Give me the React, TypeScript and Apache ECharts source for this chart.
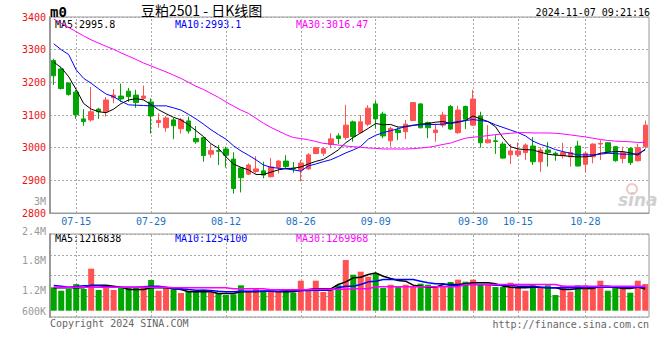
import React, { useEffect, useRef } from 'react';
import * as echarts from 'echarts';

const dates = [
  '07-10','07-11','07-12','07-15','07-16','07-17','07-18','07-19','07-22','07-23','07-24','07-25','07-26','07-29','07-30','07-31',
  '08-01','08-02','08-05','08-06','08-07','08-08','08-09','08-12','08-13','08-14','08-15','08-16','08-19','08-20','08-21','08-22','08-23','08-26','08-27','08-28','08-29','08-30',
  '09-02','09-03','09-04','09-05','09-06','09-09','09-10','09-11','09-12','09-13','09-18','09-19','09-20','09-23','09-24','09-25','09-26','09-27','09-30',
  '10-08','10-09','10-10','10-11','10-14','10-15','10-16','10-17','10-18','10-21','10-22','10-23','10-24','10-25','10-28','10-29','10-30','10-31',
  '11-01','11-04','11-05','11-06','11-07'
];
const labelDates = ['07-15', '07-29', '08-12', '08-26', '09-09', '09-30', '10-15', '10-28'];

const opens = [3267,3241,3198,3170,3088,3085,3118,3110,3153,3158,3173,3161,3151,3140,3077,3061,3085,3058,3082,3028,
  3031,2980,2991,2996,2965,2938,2919,2927,2929,2911,2940,2959,2937,2932,2935,2982,2983,3010,3036,3031,
  3079,3046,3072,3134,3103,3021,3054,3049,3083,3134,3077,3046,3069,3126,3046,3126,3069,3097,3015,3021,
  3011,2978,2978,2985,3005,2957,2993,2983,2975,2972,3005,2949,2972,3011,3015,3003,2967,2998,2960,3003];
const closes = [3220,3181,3163,3101,3080,3110,3110,3146,3161,3149,3156,3138,3158,3097,3083,3091,3067,3085,3051,3018,
  2976,2991,2989,2977,2875,2908,2947,2935,2916,2941,2959,2942,2935,2953,2978,3000,2997,3027,3028,3069,
  3034,3079,3121,3088,3036,3059,3046,3072,3138,3061,3061,3054,3100,3057,3115,3087,3149,3015,3024,3019,
  2968,2990,2990,3008,2957,2993,2985,2979,2985,2985,2944,2983,3011,3013,2987,2960,2985,2954,3000,3069];
const highs = [3272,3245,3199,3177,3118,3186,3122,3155,3179,3196,3183,3177,3190,3151,3105,3097,3091,3091,3095,3066,
  3033,3011,3008,3003,2986,2940,2952,2974,2957,2968,2962,2977,2956,2962,2983,3002,3001,3044,3044,3131,
  3083,3100,3130,3143,3110,3064,3062,3085,3140,3136,3080,3074,3110,3131,3128,3129,3177,3110,3069,3039,
  3018,3011,3016,3013,3032,3001,3017,2988,3015,3001,3021,2988,3013,3023,3017,3005,3003,3001,3011,3083];
const lows = [3192,3178,3159,3088,3067,3080,3088,3095,3136,3140,3140,3122,3146,3043,3061,3049,3026,3043,3043,3012,
  2957,2969,2947,2939,2859,2863,2916,2921,2906,2909,2921,2937,2923,2897,2932,2980,2975,2998,3011,3024,
  3018,3044,3066,3058,3029,3003,3023,3026,3081,3059,3029,3018,3062,3054,3042,3057,3066,3000,3013,2981,
  2966,2950,2972,2962,2947,2926,2942,2960,2967,2942,2942,2926,2952,2962,2983,2957,2952,2947,2957,2998];

const ma5 = [3262,3245,3217,3178,3135,3118,3110,3107,3118,3135,3146,3150,3146,3132,3116,3104,3093,3085,3070,3052,
  3034,3012,2998,2972,2950,2940,2932,2918,2918,2925,2932,2936,2937,2941,2950,2958,2964,2978,2993,3015,
  3031,3045,3059,3074,3070,3071,3063,3064,3068,3072,3074,3078,3080,3074,3078,3083,3097,3088,3080,3064,
  3030,3003,2996,2994,2993,2986,2980,2977,2976,2973,2972,2972,2975,2983,2986,2988,2988,2984,2977,2995.8];
const ma10 = [3318,3300,3285,3238,3212,3197,3180,3164,3156,3142,3131,3130,3129,3128,3128,3128,3122,3115,3102,3088,
  3072,3055,3040,3026,3006,2990,2977,2963,2947,2940,2937,2935,2932,2928,2944,2950,2957,2963,2973,2984,
  2993,3004,3026,3038,3046,3052,3058,3065,3069,3070,3071,3071,3072,3076,3080,3083,3086,3083,3080,3070,
  3062,3054,3046,3036,3020,3010,3003,2994,2988,2983,2978,2978,2978,2980,2983,2982,2980,2980,2981,2993.1];
const ma30 = [3394,3381,3368,3355,3342,3330,3320,3310,3301,3290,3280,3270,3259,3250,3241,3232,3222,3212,3200,3188,
  3178,3166,3154,3140,3127,3115,3105,3090,3075,3062,3051,3040,3031,3028,3024,3019,3013,3011,3008,3005,
  3003,3001,2999,2998,2996,2996,2996,2996,2997,2999,3001,3005,3010,3014,3022,3029,3032,3034,3037,3040,
  3042,3044,3046,3046,3045,3045,3045,3044,3042,3039,3036,3033,3029,3025,3022,3020,3019,3018,3016,3016.47];

const volumes = [1254000,1185000,1220000,1320000,1220000,1633000,1200000,1254000,1200000,1254000,1240000,1254000,1240000,1403000,1185000,1254000,1254000,1138000,1172000,1185000,
  1206000,1152000,1138000,1098000,1112000,1295000,1185000,1220000,1185000,1200000,1185000,1200000,1145000,1389000,1200000,1389000,1159000,1220000,1295000,1809000,
  1510000,1572000,1470000,1545000,1240000,1307000,1260000,1307000,1260000,1328000,1307000,1275000,1275000,1362000,1410000,1368000,1410000,1307000,1320000,1260000,
  1260000,1348000,1240000,1185000,1295000,1254000,1295000,1098000,1287000,1165000,1295000,1295000,1240000,1389000,1185000,1240000,1240000,1145000,1389000,1320000];
const volMa5 = [1240000,1240000,1240000,1240000,1240000,1294000,1294000,1294000,1274000,1254000,1206000,1206000,1206000,1240000,1240000,1240000,1227000,1206000,1159000,1159000,
  1159000,1159000,1125000,1125000,1125000,1159000,1159000,1159000,1172000,1172000,1159000,1159000,1159000,1186000,1206000,1220000,1220000,1220000,1308000,1362000,
  1443000,1457000,1511000,1545000,1477000,1430000,1389000,1376000,1294000,1274000,1254000,1254000,1308000,1308000,1308000,1322000,1342000,1342000,1342000,1322000,
  1274000,1254000,1240000,1240000,1254000,1254000,1240000,1240000,1206000,1206000,1227000,1227000,1227000,1274000,1274000,1254000,1227000,1227000,1254000,1216838];
const volMa10 = [1288000,1274000,1254000,1267000,1281000,1281000,1281000,1267000,1254000,1254000,1254000,1254000,1261000,1274000,1274000,1254000,1220000,1220000,1206000,1193000,
  1193000,1186000,1172000,1159000,1159000,1172000,1172000,1172000,1172000,1172000,1172000,1186000,1186000,1186000,1186000,1193000,1193000,1193000,1240000,1274000,
  1274000,1308000,1362000,1376000,1410000,1410000,1410000,1410000,1410000,1376000,1342000,1322000,1322000,1294000,1294000,1308000,1308000,1308000,1308000,1294000,
  1294000,1294000,1274000,1274000,1274000,1254000,1240000,1240000,1240000,1240000,1240000,1254000,1254000,1254000,1254000,1254000,1254000,1254000,1254000,1254100];
const volMa30 = [1254000,1254000,1254000,1254000,1254000,1254000,1254000,1254000,1254000,1254000,1254000,1254000,1254000,1254000,1254000,1254000,1240000,1240000,1240000,1240000,
  1240000,1240000,1240000,1240000,1220000,1220000,1220000,1220000,1220000,1200000,1200000,1200000,1200000,1200000,1200000,1213000,1213000,1213000,1213000,1213000,
  1220000,1220000,1220000,1261000,1261000,1261000,1261000,1261000,1261000,1261000,1261000,1261000,1261000,1261000,1261000,1308000,1308000,1308000,1308000,1308000,
  1308000,1308000,1308000,1308000,1308000,1308000,1308000,1308000,1274000,1274000,1274000,1274000,1274000,1274000,1274000,1274000,1274000,1274000,1274000,1269968];

const priceLegend = ['MA5:2995.8', 'MA10:2993.1', 'MA30:3016.47'];
const volLegend = ['MA5:1216838', 'MA10:1254100', 'MA30:1269968'];
const volTickLabels = ['600K', '1.2M', '1.8M', '2.4M'];
const titleText = '豆粕2501 - 日K线图';
const codeText = 'm0';
const timeText = '2024-11-07 09:21:16';

const UP = '#ff5252';
const DOWN = '#00a600';
const GRID = '#a8a8a8';
const BORDER = '#999999';
const MONO = '"DejaVu Sans Mono", "Liberation Mono", monospace';
const DOTS: [number, number] = [2, 2];

export default function App() {
  const ref = useRef<HTMLDivElement>(null);
  useEffect(() => {
    if (!ref.current) return;
    const chart = echarts.init(ref.current, undefined, { renderer: 'svg' });
    const vMark = {
      z: 1,
      silent: true,
      symbol: ['none', 'none'],
      label: { show: false },
      lineStyle: { color: GRID, type: DOTS, width: 1 },
      data: labelDates.map((d) => ({ xAxis: d })),
    };
    const legendColors = ['#000000', '#0000ff', '#ff00ff'];
    const legendX = [55, 175, 296];
    const textEl = (text: string, x: number, y: number, fill: string, font: string, align = 'left') => ({
      type: 'text',
      x,
      y,
      silent: true,
      style: { text, fill, font, align, verticalAlign: 'middle' },
    });
    const option: any = {
      animation: false,
      backgroundColor: '#ffffff',
      grid: [
        { left: 50, right: 11, top: 17, height: 196, show: true, borderColor: BORDER, borderWidth: 1 },
        { left: 50, right: 11, top: 234, height: 76.7 },
        { left: 50, right: 11, top: 234, height: 83, show: true, borderColor: BORDER, borderWidth: 1 },
        { left: 50, right: 11, top: 231, height: 88.5 },
      ],
      xAxis: [
        {
          gridIndex: 0, type: 'category', data: dates, boundaryGap: true,
          axisLine: { lineStyle: { color: BORDER } }, axisTick: { show: false },
          axisLabel: {
            interval: (_i: number, v: string) => labelDates.includes(v),
            color: '#1a72c4', fontFamily: MONO, fontSize: 10, margin: 3,
          },
          splitLine: { show: false },
        },
        { gridIndex: 1, type: 'category', data: dates, boundaryGap: true, show: false },
        { gridIndex: 2, type: 'category', data: dates, boundaryGap: true, show: false },
        { gridIndex: 3, type: 'category', data: dates, boundaryGap: true, show: false },
      ],
      yAxis: [
        {
          gridIndex: 0, type: 'value', min: 2800, max: 3400, interval: 100,
          axisLine: { show: true, lineStyle: { color: BORDER, width: 2 } }, axisTick: { show: false },
          axisLabel: {
            color: '#ee1111', fontFamily: MONO, fontSize: 10, margin: 4, padding: [0, 0, 4, 0],
            formatter: (v: number) => String(v),
          },
          splitLine: { show: true, lineStyle: { color: GRID, type: DOTS } },
        },
        { gridIndex: 1, type: 'value', min: 778860, max: 2337800, show: false },
        {
          gridIndex: 2, type: 'value', min: 0, max: 4, interval: 1,
          axisLine: { show: true, lineStyle: { color: BORDER, width: 2 } }, axisTick: { show: false }, axisLabel: { show: false },
          splitLine: { show: true, lineStyle: { color: GRID, type: DOTS } },
        },
        { gridIndex: 2, type: 'value', min: 645000, max: 2337800, show: false },
        {
          gridIndex: 3, type: 'value', min: 600000, max: 2400000, interval: 600000,
          axisLine: { show: false }, axisTick: { show: false }, splitLine: { show: false },
          axisLabel: {
            margin: 4,
            color: '#999999', fontFamily: MONO, fontSize: 10,
            formatter: (v: number) => {
              const i = Math.round((v - 600000) / 600000);
              return i === 0 ? '{lift|' + volTickLabels[i] + '}' : volTickLabels[i];
            },
            rich: { lift: { color: '#999999', fontFamily: MONO, fontSize: 10, padding: [0, 0, 17, 0] } },
          },
        },
      ],
      series: [
        {
          type: 'candlestick', xAxisIndex: 0, yAxisIndex: 0, barWidth: 5,
          data: dates.map((_, i) => [opens[i], closes[i], lows[i], highs[i]]),
          itemStyle: { color: UP, color0: DOWN, borderColor: UP, borderColor0: DOWN, borderWidth: 1 },
          markLine: vMark,
        },
        { type: 'line', xAxisIndex: 0, yAxisIndex: 0, data: ma5, showSymbol: false, z: 3, lineStyle: { color: '#000000', width: 1 } },
        { type: 'line', xAxisIndex: 0, yAxisIndex: 0, data: ma10, showSymbol: false, z: 3, lineStyle: { color: '#0000ff', width: 1 } },
        { type: 'line', xAxisIndex: 0, yAxisIndex: 0, data: ma30, showSymbol: false, z: 3, lineStyle: { color: '#ff00ff', width: 1 } },
        {
          type: 'bar', xAxisIndex: 1, yAxisIndex: 1, barWidth: 6,
          data: volumes.map((v, i) => ({ value: v, itemStyle: { color: closes[i] >= opens[i] ? UP : DOWN } })),
        },
        { type: 'line', xAxisIndex: 2, yAxisIndex: 3, data: volMa5, showSymbol: false, z: 3, lineStyle: { color: '#000000', width: 1.5 }, markLine: vMark },
        { type: 'line', xAxisIndex: 2, yAxisIndex: 3, data: volMa10, showSymbol: false, z: 3, lineStyle: { color: '#0000ff', width: 1.5 } },
        { type: 'line', xAxisIndex: 2, yAxisIndex: 3, data: volMa30, showSymbol: false, z: 3, lineStyle: { color: '#ff00ff', width: 1.5 } },
      ],
      graphic: [
        textEl(codeText, 50, 12, '#000000', 'bold 14px ' + MONO),
        textEl(titleText, 141, 10, '#000000', '14px "Noto Sans CJK SC", sans-serif'),
        textEl(timeText, 650, 12, '#000000', '10px ' + MONO, 'right'),
        ...priceLegend.map((t, i) => textEl(t, legendX[i], 24, legendColors[i], '10px ' + MONO)),
        ...volLegend.map((t, i) => textEl(t, legendX[i], 238, legendColors[i], '10px ' + MONO)),
        textEl('3M', 46, 201, '#999999', '10px ' + MONO, 'right'),
        textEl('Copyright 2024 SINA.COM', 50, 323, '#666666', '10px ' + MONO),
        textEl('http://finance.sina.com.cn', 649, 324, '#666666', '10px ' + MONO, 'right'),
        { type: 'circle', shape: { cx: 632, cy: 189, r: 5 }, silent: true, style: { fill: 'none', stroke: '#f2c8c8', lineWidth: 2 } },
        textEl('sina', 618, 200, '#d0d0d0', 'italic bold 17px "DejaVu Sans", sans-serif'),
      ],
    };
    chart.setOption(option);
    return () => chart.dispose();
  }, []);
  return <div ref={ref} style={{ position: 'fixed', left: 0, top: 0, width: 660, height: 360 }} />;
}
